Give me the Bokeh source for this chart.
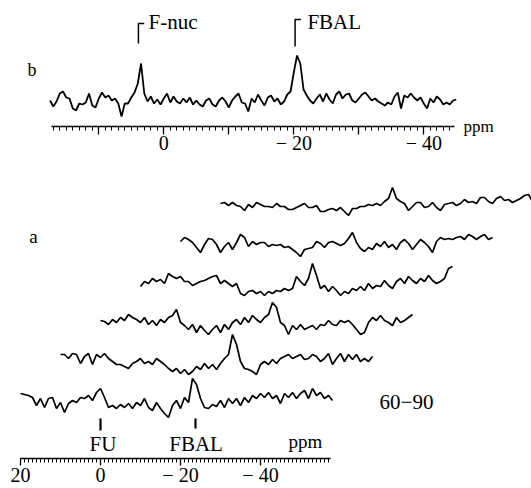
import numpy as np
from bokeh.plotting import figure
from bokeh.models import Range1d, LinearAxis, FixedTicker
from bokeh.core.properties import value
from bokeh.embed import file_html
from bokeh.resources import INLINE

# ---------------- data ----------------
# spectrum b: intensities on a 0.5 ppm grid starting at +17.5 ppm
b_ppm_start = 17.5
b_ppm_step = -0.5
b_int = [1, -5, 0, 8, 10, 4, 3, -7, -9, -2,
         -3, -1, 8, -4, -6, 3, 9, 4, 6, 1,
         3, -2, -15, -2, -2, 4, 9, 18, 38, 8,
         0, 5, -2, 2, -3, 3, 8, -1, 5, 0,
         -2, 3, -1, 4, -3, 1, -3, -5, 1, 3,
         -3, -5, 1, 4, 0, -6, 1, 5, 8, -1,
         -2, -10, 3, -1, 7, 1, -4, 4, 6, 0,
         3, -3, 0, 7, 10, 29, 46, 38, 12, 6,
         1, -2, 3, 7, 0, 8, 2, -2, 7, 10,
         3, 7, 8, 1, -1, 3, 7, 9, 5, 1,
         3, 0, -2, -4, -1, -3, 5, 9, -7, 6,
         4, 8, 4, 1, 4, -2, -7, 3, -1, 5,
         2, -3, -1, -3, 1, 2]

# spectra a: six time slices, intensities on a 1 ppm grid from +20 to -58 ppm
a_ppm_start = 20
a_ppm_step = -1
a_t1 = [7, 6, 5, 3, -5, 2, -7, 2, 3, -8, -2, -12, -3, 0, -2, 3, 2, 5, 0, 8,
        12, 3, -7, -5, -8, -4, -7, -3, -8, -2, -5, 2, -7, -10, -2, -8, -13, -17, -5, 0,
        -8, 3, -2, 22, 16, 2, -7, -8, -4, -6, 0, -7, 2, -3, 2, -5, 3, -2, 5, 2,
        7, 3, 8, 2, 5, -3, 7, 3, 8, 2, 7, 10, 2, 12, 5, 8, 2, 5, 0]
a_t2 = [7, 7, 3, 8, 7, -2, 5, 8, -3, 7, 4, 8, 3, 0, -3, -3, -5, -7, -2, 0,
        3, -2, 0, -3, 3, 0, -3, -7, -10, -7, -12, -8, -13, -10, -5, -8, -2, -7, -3, -8,
        -2, 3, 7, 27, 17, 0, -7, -8, -10, -13, -3, 0, -3, 2, -2, 3, 5, 7, 3, 5,
        7, 2, 3, 7, 5, 0, 3, 8, -3, 3, 8, 0, 7, 2, 7, 0, 3, 0, 5]
a_t3 = [2, 1, -2, 3, 0, 5, 2, 8, 5, 3, 0, 5, -2, 2, -3, 3, 0, 5, 7, 13,
        0, -3, -7, -2, -10, -3, -8, -12, -7, -3, -10, -2, -7, 0, 3, -2, 5, 0, 7, 3,
        0, 5, 8, 20, 15, 0, -3, -12, -3, -7, -2, -7, -5, -3, -7, -2, -3, 2, -2, -3,
        2, 0, 2, -2, -7, -12, -10, 0, 5, 2, 7, 2, 0, -3, 5, 0, 2, 5, 8]
a_t4 = [-3, 2, 0, 5, 2, 4, 0, 10, 7, 5, 7, 2, 2, -2, 0, 2, 3, 5, 7, 8,
        0, 3, 0, -3, 0, -10, -12, -8, -7, -10, -8, -12, -8, -10, -7, -8, -5, -7, -5, 7,
        2, -2, 5, 20, 8, -5, -2, -8, -3, -7, -12, -8, -10, -5, -7, -3, -7, 0, -5, -2,
        -3, 3, -2, -5, 2, 5, 0, 7, 3, 0, 5, 2, 8, 3, 0, 2, 5, 15, 17]
a_t5 = [3, 7, 5, 2, -3, -8, 0, 6, 5, 0, -8, -2, 2, -5, 2, 10, 7, -2, 3, 0,
        2, 2, -2, 0, -1, 0, -3, -2, -5, -8, -12, -5, -4, -3, 3, 1, -3, 2, 3, 1,
        -1, 1, 6, 12, 2, -4, -7, -3, -5, 1, -2, 3, -3, 0, -5, 2, 5, 1, -5, 0,
        5, 2, -2, -8, 3, 7, 5, 6, 5, 7, 8, 5, 10, 8, 5, 8, 10, 5, 7]
a_t6 = [2, 3, 0, 3, 0, -1, -5, 1, -2, 3, 1, -1, -1, -2, 2, -1, -1, -4, -4, -2,
        0, 2, -2, -2, 0, -6, -6, -4, -3, -5, -2, -6, -10, -3, -3, -1, -1, 1, 0, 2,
        0, 4, 7, 18, 7, 4, 2, -5, -1, 3, 3, -2, -1, 3, -2, -5, 1, 2, 3, 0,
        2, 6, 3, 4, 2, 8, 8, 4, 2, 7, 9, 5, 6, 3, 5, 7, 10, 11, 4]
a_traces = [a_t1, a_t2, a_t3, a_t4, a_t5, a_t6]

# assignments
b_peak_labels = ["F-nuc", "FBAL"]
b_peak_ppm = [3.9, -20.2]
a_marker_labels = ["FU", "FBAL"]
a_marker_ppm = [0.0, -23.75]

b_tick_labels = {10: "", 0: "0", -10: "", -20: "\u2212 20", -30: "", -40: "\u2212 40"}
a_tick_labels = {20: "20", 0: "0", -20: "\u2212 20", -40: "\u2212 40"}

# ---------------- layout constants ----------------
SERIF = value("Liberation Serif")
B_BASE = 387          # baseline of spectrum b (vertical units)
A_BASE = 88           # baseline of lowest slice of a
STACK_DY = 39         # vertical offset between slices
STACK_DX = -10        # horizontal (ppm) offset between slices

p = figure(width=531, height=488, output_backend="svg", toolbar_location=None,
           x_range=Range1d(25.0, -107.75), y_range=Range1d(0, 488),
           x_axis_location=None, y_axis_location=None, min_border=0,
           outline_line_color=None, background_fill_color="white",
           border_fill_color="white")
p.extra_x_ranges = {"b": Range1d(25.12, -56.57)}
p.xgrid.visible = False
p.ygrid.visible = False

# ---- spectrum b ----
b_x = b_ppm_start + b_ppm_step * np.arange(len(b_int))
p.line(b_x, B_BASE + np.array(b_int), x_range_name="b", line_color="black",
       line_width=1.8)

# brackets over the peaks
for lab, xp in zip(b_peak_labels, b_peak_ppm):
    top = 465 if lab == "F-nuc" else 469
    bot = 445 if lab == "F-nuc" else 442
    p.line([xp, xp, xp - 0.9], [bot, top, top], x_range_name="b",
           line_color="black", line_width=1.5)
p.text(x=[2.35, -22.1], y=[467, 467], text=b_peak_labels, x_range_name="b",
       text_font=SERIF, text_font_size="21px", text_align="left",
       text_baseline="alphabetic", text_color="black")
p.text(x=[20.28], y=[419], text=["b"], x_range_name="b", text_font=SERIF,
       text_font_size="18px", text_align="center", text_baseline="alphabetic")
p.text(x=[-46.1], y=[362], text=["ppm"], x_range_name="b", text_font=SERIF,
       text_font_size="17px", text_align="left", text_baseline="alphabetic")

ax_b = LinearAxis(x_range_name="b", fixed_location=361.7,
                  ticker=FixedTicker(ticks=list(b_tick_labels.keys()),
                                     minor_ticks=list(range(17, -45, -1))),
                  bounds=(-44.8, 17.3), major_label_overrides=b_tick_labels)
p.add_layout(ax_b, "below")

# ---- stacked spectra a ----
a_own = a_ppm_start + a_ppm_step * np.arange(len(a_t1))
for k, tr in enumerate(a_traces):
    p.line(a_own + k * STACK_DX, A_BASE + k * STACK_DY + np.array(tr),
           line_color="black", line_width=1.7)

p.segment(x0=a_marker_ppm, y0=[58, 60], x1=a_marker_ppm, y1=[70, 70],
          line_color="black", line_width=2.2)
p.text(x=[-0.63, -23.9], y=[45, 45], text=a_marker_labels, text_font=SERIF,
       text_font_size="21px", text_align="center", text_baseline="alphabetic")
p.text(x=[-47.0], y=[47], text=["ppm"], text_font=SERIF,
       text_font_size="19px", text_align="left", text_baseline="alphabetic")
p.text(x=[-76.5], y=[87], text=["60\u221290"], text_font=SERIF,
       text_font_size="21px", text_align="center", text_baseline="alphabetic")
p.text(x=[16.75], y=[252], text=["a"], text_font=SERIF,
       text_font_size="19px", text_align="center", text_baseline="alphabetic")

ax_a = LinearAxis(fixed_location=30.3,
                  ticker=FixedTicker(ticks=list(a_tick_labels.keys()),
                                     minor_ticks=list(range(20, -58, -1))),
                  bounds=(-57.5, 20), major_label_overrides=a_tick_labels)
p.add_layout(ax_a, "below")

for ax, tout, stand in ((ax_b, 8, -3), (ax_a, 7, -1)):
    ax.axis_line_color = "black"
    ax.axis_line_width = 1.5
    ax.major_tick_in = 0
    ax.major_tick_out = tout
    ax.minor_tick_in = 0
    ax.minor_tick_out = 4
    ax.major_tick_line_width = 1.3
    ax.minor_tick_line_width = 1
    ax.major_tick_line_color = "black"
    ax.minor_tick_line_color = "black"
    ax.major_label_text_font = "Liberation Serif"
    ax.major_label_text_font_size = "20px"
    ax.major_label_text_color = "black"
    ax.major_label_standoff = stand

open("out.html", "w").write(file_html(p, INLINE))
